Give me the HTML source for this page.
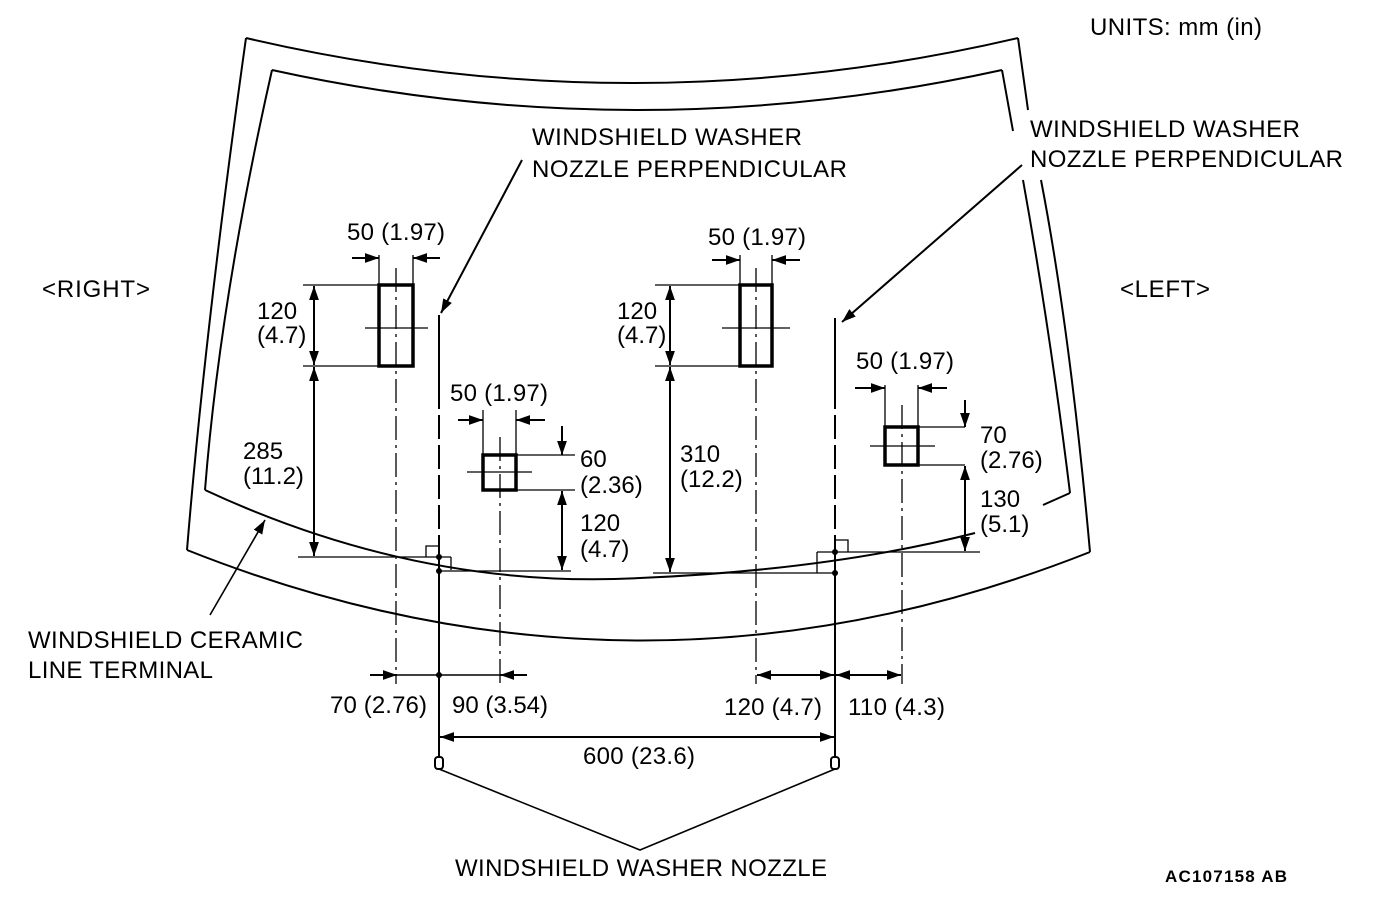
<!DOCTYPE html>
<html><head><meta charset="utf-8"><style>
html,body{margin:0;padding:0;background:#fff;}
svg{display:block;}
text{font-family:"Liberation Sans",sans-serif;font-size:24px;fill:#000;}
</style></head><body>
<svg width="1376" height="904" viewBox="0 0 1376 904" xmlns="http://www.w3.org/2000/svg">
<defs>
<marker id="a" viewBox="0 0 10 10" refX="10" refY="5" markerWidth="14" markerHeight="14" markerUnits="userSpaceOnUse" orient="auto-start-reverse"><path d="M0,1.5 L10,5 L0,8.5 z" fill="#000"/></marker>
</defs>
<g fill="none" stroke="#000" stroke-width="2">
<!-- outer windshield -->
<path d="M246,38 Q632,128 1018,38"/>
<path d="M246,38 Q205,330 187,550"/>
<path d="M187,550 Q640,730 1090,552"/>
<path d="M1090,552 Q1070,330 1041,180"/>
<path d="M1018,38 L1028,110"/>
<!-- inner -->
<path d="M272,70 Q637,150 1002,70"/>
<path d="M272,70 Q220,300 205,490"/>
<path d="M205,490 Q420,590 640,578 Q830,570 975,533"/>
<path d="M1070,493 Q1050,330 1023,180"/>
<path d="M1002,70 L1013,131"/>
<path d="M1070,493 L1043,505"/>
</g>
<g fill="none" stroke="#000" stroke-width="1.3">
<!-- centerlines dash-dot -->
<g stroke-dasharray="24 5 3 5">
<line x1="396" y1="268" x2="396" y2="684"/>
<line x1="500" y1="437" x2="500" y2="684"/>
<line x1="756" y1="268" x2="756" y2="684"/>
<line x1="902" y1="405" x2="902" y2="684"/>
</g>
<line x1="365" y1="328" x2="428" y2="328"/>
<line x1="722" y1="328" x2="790" y2="328"/>
<line x1="467" y1="472" x2="532" y2="472"/>
<line x1="870" y1="446" x2="935" y2="446"/>
<!-- extension lines -->
<line x1="379" y1="255" x2="379" y2="285"/><line x1="413" y1="255" x2="413" y2="285"/>
<line x1="740" y1="255" x2="740" y2="285"/><line x1="772" y1="255" x2="772" y2="285"/>
<line x1="483" y1="410" x2="483" y2="455"/><line x1="516" y1="410" x2="516" y2="455"/>
<line x1="885" y1="385" x2="885" y2="427"/><line x1="918" y1="385" x2="918" y2="427"/>
<line x1="303" y1="285" x2="379" y2="285"/><line x1="303" y1="366" x2="379" y2="366"/>
<line x1="655" y1="285" x2="740" y2="285"/><line x1="655" y1="366" x2="740" y2="366"/>
<line x1="516" y1="455" x2="575" y2="455"/><line x1="516" y1="490" x2="575" y2="490"/>
<line x1="918" y1="427" x2="965" y2="427"/><line x1="918" y1="465" x2="965" y2="465"/>
<line x1="298" y1="557" x2="451" y2="557"/><line x1="451" y1="557" x2="451" y2="570"/>
<line x1="439" y1="571" x2="571" y2="571"/>
<line x1="835" y1="552" x2="980" y2="552"/>
<line x1="817" y1="552" x2="835" y2="552"/><line x1="817" y1="552" x2="817" y2="573"/>
<line x1="653" y1="573" x2="835" y2="573"/>
<path d="M426,557 V546 H439"/><path d="M835,540 H848 V552"/>
</g>
<!-- nozzle lines -->
<g fill="none" stroke="#000" stroke-width="2">
<line x1="439" y1="315" x2="439" y2="385"/>
<line x1="439" y1="385" x2="439" y2="557" stroke-dasharray="24 6"/>
<line x1="439" y1="557" x2="439" y2="757"/>
<line x1="835" y1="318" x2="835" y2="385"/>
<line x1="835" y1="385" x2="835" y2="552" stroke-dasharray="24 6"/>
<line x1="835" y1="552" x2="835" y2="757"/>
<rect x="435" y="757" width="8" height="12" rx="3"/>
<rect x="831" y="757" width="8" height="12" rx="3"/>
<polyline points="439,769 640,850 835,769" stroke-width="1.6"/>
</g>
<g fill="#000"><circle cx="439" cy="557" r="3"/><circle cx="439" cy="571" r="3"/><circle cx="835" cy="552" r="3"/><circle cx="835" cy="573" r="3"/><circle cx="439" cy="675" r="3"/></g>
<!-- rectangles -->
<g fill="none" stroke="#000" stroke-width="3.5">
<rect x="379" y="285" width="34" height="81"/>
<rect x="740" y="285" width="32" height="81"/>
<rect x="483" y="455" width="33" height="35"/>
<rect x="885" y="427" width="33" height="38"/>
</g>
<!-- dimension arrows -->
<g fill="none" stroke="#000" stroke-width="2" marker-end="url(#a)">
<line x1="352" y1="258" x2="379" y2="258"/><line x1="440" y1="258" x2="413" y2="258"/>
<line x1="712" y1="260" x2="740" y2="260"/><line x1="800" y1="260" x2="772" y2="260"/>
<line x1="458" y1="420" x2="483" y2="420"/><line x1="545" y1="420" x2="516" y2="420"/>
<line x1="855" y1="388" x2="885" y2="388"/><line x1="947" y1="388" x2="918" y2="388"/>
<line x1="562" y1="426" x2="562" y2="455"/>
<line x1="965" y1="400" x2="965" y2="427"/>
<line x1="370" y1="675" x2="397" y2="675"/>
<line x1="527" y1="675" x2="500" y2="675"/>
<line x1="522" y1="160" x2="441" y2="313"/>
<line x1="1022" y1="165" x2="842" y2="322"/>
<line x1="210" y1="615" x2="265" y2="520" stroke-width="1.6"/>
</g>
<g fill="none" stroke="#000" stroke-width="2" marker-start="url(#a)" marker-end="url(#a)">
<line x1="314" y1="286" x2="314" y2="365"/>
<line x1="314" y1="367" x2="314" y2="556"/>
<line x1="670" y1="286" x2="670" y2="365"/>
<line x1="670" y1="367" x2="670" y2="572"/>
<line x1="562" y1="491" x2="562" y2="570"/>
<line x1="965" y1="466" x2="965" y2="551"/>
<line x1="757" y1="675" x2="834" y2="675"/>
<line x1="836" y1="675" x2="901" y2="675"/>
<line x1="440" y1="737" x2="834" y2="737"/>
</g>
<line x1="397" y1="675" x2="500" y2="675" stroke="#000" stroke-width="1.5"/>
<!-- text -->
<text x="1090" y="35" textLength="172">UNITS: mm (in)</text>
<text x="532" y="145" textLength="270">WINDSHIELD WASHER</text>
<text x="532" y="177" textLength="315">NOZZLE PERPENDICULAR</text>
<text x="1030" y="137" textLength="270">WINDSHIELD WASHER</text>
<text x="1030" y="167" textLength="313">NOZZLE PERPENDICULAR</text>
<text x="42" y="297" textLength="108">&lt;RIGHT&gt;</text>
<text x="1120" y="297" textLength="90">&lt;LEFT&gt;</text>
<text x="347" y="240" textLength="98">50 (1.97)</text>
<text x="708" y="245" textLength="98">50 (1.97)</text>
<text x="450" y="401" textLength="98">50 (1.97)</text>
<text x="856" y="369" textLength="98">50 (1.97)</text>
<text x="257" y="319">120</text><text x="257" y="343">(4.7)</text>
<text x="617" y="319">120</text><text x="617" y="343">(4.7)</text>
<text x="243" y="459">285</text><text x="243" y="484">(11.2)</text>
<text x="580" y="467">60</text><text x="580" y="493">(2.36)</text>
<text x="580" y="531">120</text><text x="580" y="557">(4.7)</text>
<text x="680" y="462">310</text><text x="680" y="487">(12.2)</text>
<text x="980" y="443">70</text><text x="980" y="468">(2.76)</text>
<text x="980" y="507">130</text><text x="980" y="532">(5.1)</text>
<text x="28" y="648" textLength="275">WINDSHIELD CERAMIC</text>
<text x="28" y="678" textLength="185">LINE TERMINAL</text>
<text x="330" y="713" textLength="97">70 (2.76)</text>
<text x="452" y="713" textLength="96">90 (3.54)</text>
<text x="724" y="715" textLength="98">120 (4.7)</text>
<text x="848" y="715" textLength="97">110 (4.3)</text>
<text x="583" y="764" textLength="112">600 (23.6)</text>
<text x="455" y="876" textLength="372">WINDSHIELD WASHER NOZZLE</text>
<text x="1165" y="882" textLength="122" style="font-size:17px;font-weight:bold">AC107158 AB</text>
</svg>
</body></html>
